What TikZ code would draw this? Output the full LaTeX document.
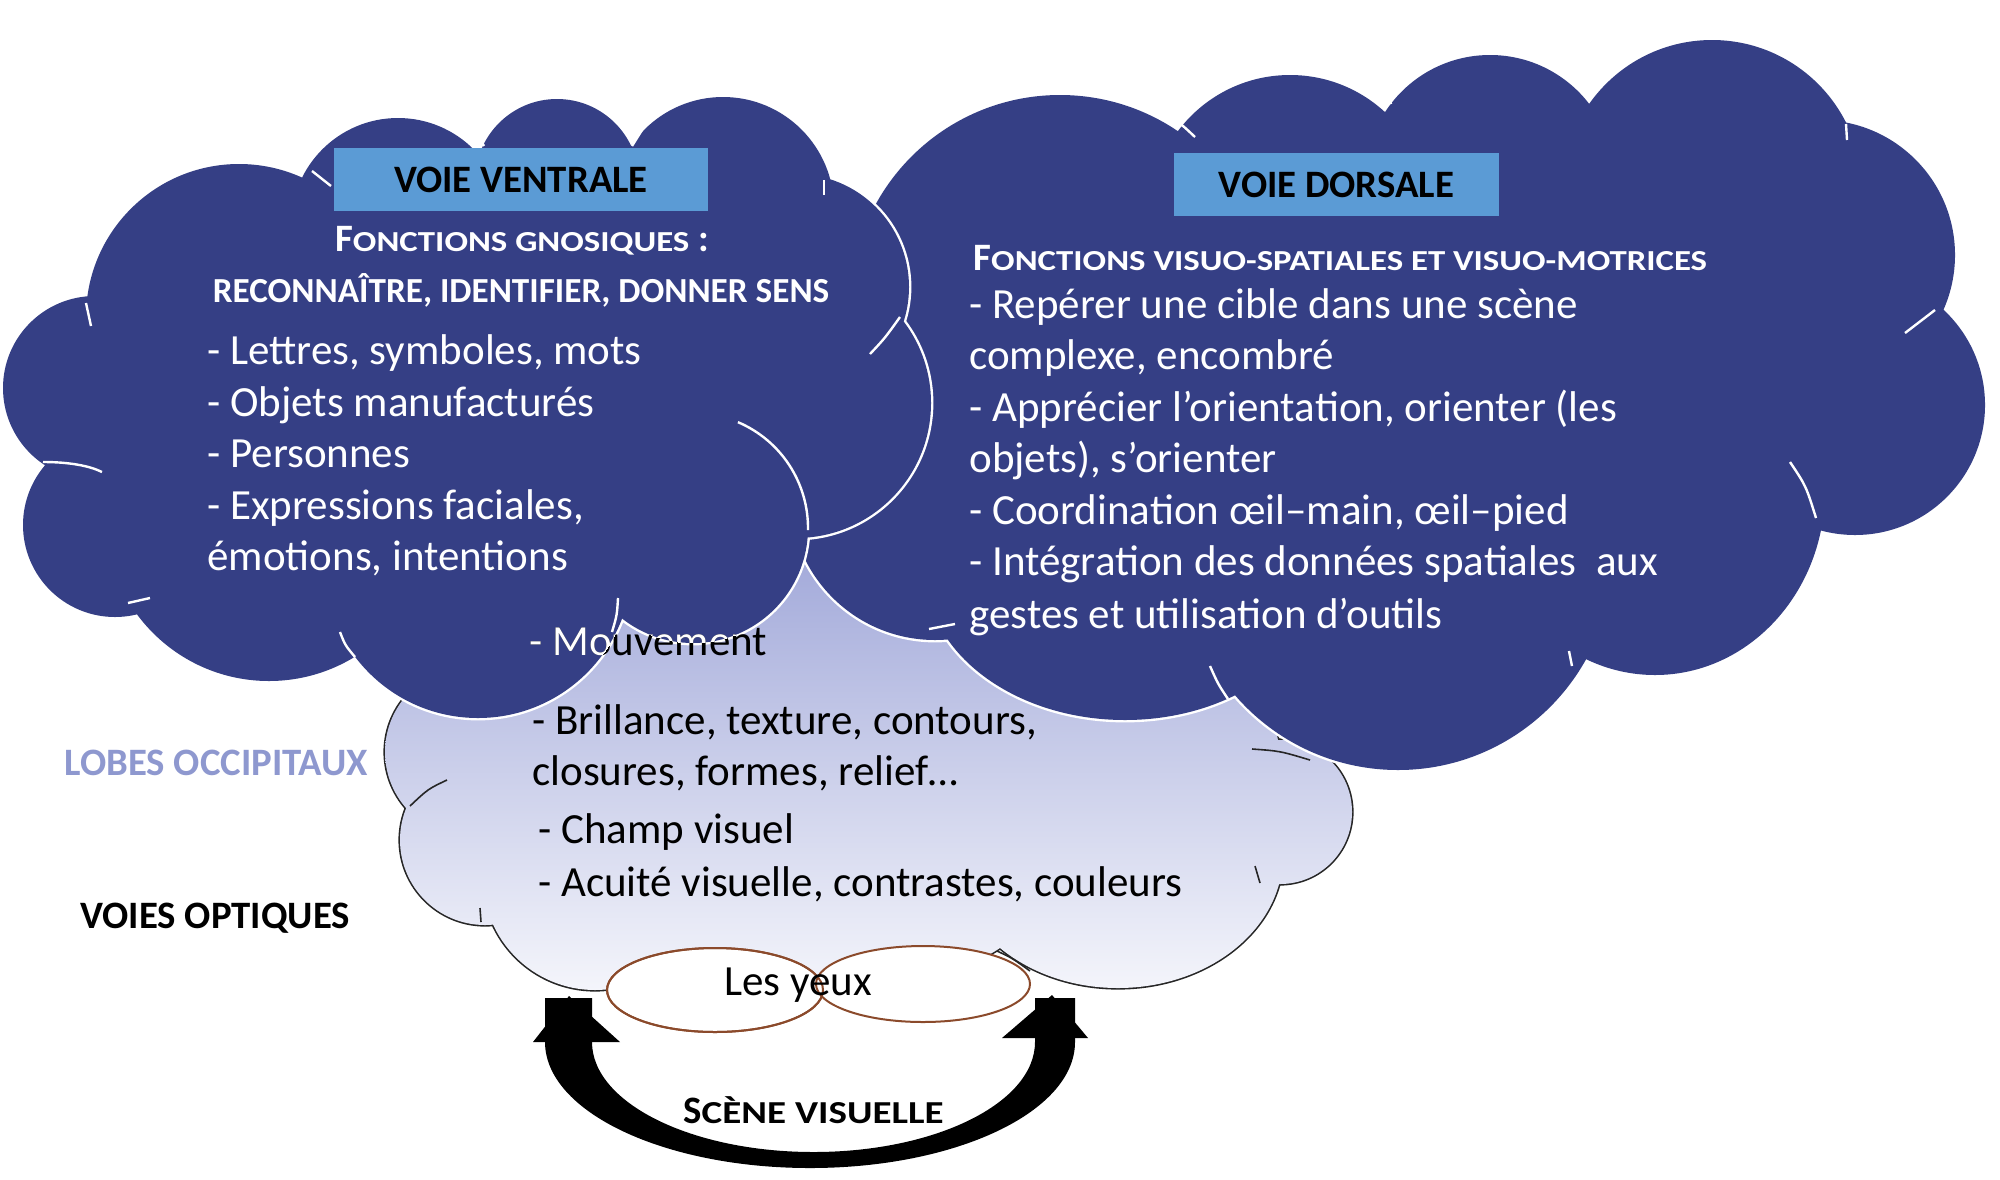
\documentclass[tikz,border=0pt]{standalone}
\usepackage{fontspec}
\usepackage{graphicx}
\setmainfont{Carlito}
\usetikzlibrary{shapes.geometric}
\definecolor{cloudblue}{HTML}{353F85}
\definecolor{boxblue}{HTML}{5B9BD5}
\definecolor{lobetop}{HTML}{A3AADA}
\definecolor{lobebot}{HTML}{F4F5FB}
\definecolor{occip}{HTML}{8E98CF}
\definecolor{eyebrown}{HTML}{8B4A2B}
\newcommand\bodyfont{\fontsize{21.5}{26}\selectfont}
\newcommand\headfont{\fontsize{19.4}{24}\selectfont\bfseries}
\newcommand\smcA[1]{\scalebox{1.2}[1]{\fontsize{14.5}{17}\selectfont #1}}
\newcommand\smcB[1]{\scalebox{1.22}[1]{\fontsize{16}{17}\selectfont #1}}
\newcommand\smcline{\fontsize{17.6}{20}\selectfont\bfseries}
\begin{document}
\begin{tikzpicture}[x=0.5pt,y=-0.5pt,
  darkstroke/.style={draw=white, line width=2.4pt},
  lightstroke/.style={draw=black!85, line width=1.6pt},
  whitetick/.style={draw=white, line width=1.2pt},
  blacktick/.style={draw=black!85, line width=0.8pt},
  whitetxt/.style={text=white, font=\bodyfont, inner sep=0pt, anchor=base west},
  blacktxt/.style={text=black, font=\bodyfont, inner sep=0pt, anchor=base west},
  headbox/.style={fill=boxblue, inner sep=0pt, text=black, font=\headfont, text height=13pt, text depth=0pt},
  eyeshape/.style={ellipse, draw=eyebrown, fill=white, line width=1pt, inner sep=0pt, outer sep=0pt}]
\useasboundingbox (0,0) rectangle (2000,1179);

% ---------- occipital (light) cloud ----------
\draw[lightstroke] (470,752) circle (85) (485,840) circle (85) (595,878) circle (112)
  (800,880) circle (110) (900,900) ellipse (130 and 75) (710,920) ellipse (110 and 50)
  (1118,855) ellipse (165 and 133)
  (1280,812) circle (72) (1180,760) circle (100);
\shade[top color=lobetop, bottom color=lobebot] (470,752) circle (85) (485,840) circle (85)
  (595,878) circle (112) (800,880) circle (110) (900,900) ellipse (130 and 75)
  (710,920) ellipse (110 and 50) (1118,855) ellipse (165 and 133)
  (1280,812) circle (72) (1180,760) circle (100) (820,740) ellipse (330 and 185);
\draw[blacktick] (447,780) .. controls (428,789) .. (410,806);
\draw[blacktick] (480,908) -- (481,922);
\draw[blacktick] (997,951) .. controls (1012,958) .. (1030,971);
\draw[blacktick] (1255,866) -- (1260,883);
\draw[blacktick] (1252,749) .. controls (1280,751) .. (1310,760);

% ---------- dorsal cloud ----------
\draw[darkstroke] (935,495) circle (145) (1060,305) circle (210) (1125,570) ellipse (200 and 150)
  (1398,555) circle (215) (1655,490) ellipse (170 and 185) (1855,405) circle (130)
  (1820,255) circle (135) (1712,190) circle (150) (1490,180) circle (125) (1290,215) circle (140);
\fill[cloudblue] (935,495) circle (145) (1060,305) circle (210) (1125,570) ellipse (200 and 150)
  (1398,555) circle (215) (1655,490) ellipse (170 and 185) (1855,405) circle (130)
  (1820,255) circle (135) (1712,190) circle (150) (1490,180) circle (125) (1290,215) circle (140);
\fill[cloudblue] (935,495) -- (1125,570) -- (1398,555) -- (1655,490) -- (1855,405) -- (1820,255)
  -- (1712,190) -- (1490,180) -- (1290,215) -- (1060,305) -- cycle;
\draw[whitetick] (1158,111) .. controls (1178,121) .. (1195,137);
\draw[whitetick] (1391,104) -- (1386,84);
\draw[whitetick] (1587,89) -- (1604,70);
\draw[whitetick] (1846,124) -- (1847,140);
\draw[whitetick] (1905,333) -- (1935,310);
\draw[whitetick] (1790,462) .. controls (1806,486) .. (1816,518);
\draw[whitetick] (1569,651) -- (1572,666);
\draw[whitetick] (1210,666) .. controls (1218,684) .. (1228,699);
\draw[whitetick] (929,629) -- (955,624);

% ---------- ventral cloud ----------
\draw[darkstroke] (95,388) circle (92) (115,525) circle (92) (269,517) circle (164)
  (478,564) circle (154) (693,528) circle (115) (796,403) circle (135) (796,287) circle (113)
  (723,208) circle (111) (557,181) circle (82) (398,225) circle (107) (239,317) circle (153);
\fill[cloudblue] (95,388) circle (92) (115,525) circle (92) (269,517) circle (164)
  (478,564) circle (154) (693,528) circle (115) (796,403) circle (135) (796,287) circle (113)
  (723,208) circle (111) (557,181) circle (82) (398,225) circle (107) (239,317) circle (153);
\fill[cloudblue] (95,388) -- (115,525) -- (269,517) -- (478,564) -- (693,528) -- (796,403)
  -- (796,287) -- (723,208) -- (557,181) -- (398,225) -- (239,317) -- cycle;
\draw[whitetick] (693,528) ++(-67:115) arc[start angle=-67, end angle=1, radius=115];
\draw[whitetick] (43,462) .. controls (70,462) and (90,466) .. (102,472);
\draw[whitetick] (128,603) -- (150,598);
\draw[whitetick] (340,632) .. controls (345,645) .. (355,657);
\draw[whitetick] (618,598) .. controls (617,615) .. (612,632);
\draw[whitetick] (870,354) .. controls (885,338) .. (900,317);
\draw[whitetick] (86,303) -- (91,326);
\draw[whitetick] (331,186) -- (312,171);
\draw[whitetick] (484,146) -- (475,130);
\draw[whitetick] (632,146) -- (642,130);
\draw[whitetick] (824,180) -- (824,195);

% ---------- boxes and headings ----------
\node[headbox, minimum width=187pt, minimum height=31.5pt] (vvbox) at (521,179.5) {VOIE VENTRALE};
\node[headbox, minimum width=162.5pt, minimum height=31.5pt] (vdbox) at (1336.5,184.5) {VOIE DORSALE};
\node[text=white, font=\headfont, inner sep=0pt, anchor=base] (vvh1) at (522,251)
  {F\smcA{ONCTIONS GNOSIQUES} :};
\node[text=white, font=\smcline, inner sep=0pt, anchor=base] (vvh2) at (521,302)
  {RECONNAÎTRE, IDENTIFIER, DONNER SENS};
\node[text=white, font=\headfont, inner sep=0pt, anchor=base west] (vdh1) at (973,270)
  {F\smcA{ONCTIONS VISUO-SPATIALES ET VISUO-MOTRICES}};

% ---------- ventral text ----------
\node[whitetxt] (v1) at (207,364) {- Lettres, symboles, mots};
\node[whitetxt] (v2) at (207,416) {- Objets manufacturés};
\node[whitetxt] (v3) at (207,467) {- Personnes};
\node[whitetxt] (v4) at (207,519) {- Expressions faciales,};
\node[whitetxt] (v5) at (207,570) {émotions, intentions};

% ---------- dorsal text ----------
\node[whitetxt] (d1) at (969,318) {- Repérer une cible dans une scène};
\node[whitetxt] (d2) at (969,369) {complexe, encombré};
\node[whitetxt] (d3) at (969,421) {- Apprécier l’orientation, orienter (les};
\node[whitetxt] (d4) at (969,472) {objets), s’orienter};
\node[whitetxt] (d5) at (969,524) {- Coordination œil–main, œil–pied};
\node[whitetxt] (d6) at (969,575) {- Intégration des données spatiales~ aux};
\node[whitetxt] (d7) at (969,628) {gestes et utilisation d’outils};

% ---------- occipital text ----------
\node[blacktxt] (o1) at (529,655) {- Mouvement};
\begin{scope}
  \clip (478,564) circle (154) (693,528) circle (115);
  \node[whitetxt] (o1w) at (529,655) {- Mouvement};
\end{scope}
\node[blacktxt] (o2) at (532,734) {- Brillance, texture, contours,};
\node[blacktxt] (o3) at (532,785) {closures, formes, relief…};
\node[blacktxt] (o4) at (538,843) {- Champ visuel};
\node[blacktxt] (o5) at (538,896) {- Acuité visuelle, contrastes, couleurs};

% ---------- side labels ----------
\node[text=occip, font=\headfont, inner sep=0pt, anchor=base west] (lobes) at (64,775) {LOBES OCCIPITAUX};
\node[text=black, font=\headfont, inner sep=0pt, anchor=base west] (voies) at (80,928) {VOIES OPTIQUES};

% ---------- curved arrow ----------
\fill[black] (545,998) -- (545,1042) arc[start angle=180, end angle=0, x radius=265, y radius=126]
  -- (1075,998) -- (1035,998) -- (1035,1042)
  arc[start angle=0, end angle=180, x radius=221.5, y radius=110] -- (592,998) -- cycle;
\fill[black] (533,1042) -- (620,1042) -- (569,996) -- cycle;
\fill[black] (1002,1038) -- (1088,1038) -- (1052,995) -- cycle;

% ---------- eyes ----------
\node[eyeshape, minimum width=108pt, minimum height=42pt] (eyeL) at (715,990) {};
\node[eyeshape, minimum width=107pt, minimum height=38pt] (eyeR) at (923,984) {};
\draw[eyebrown, line width=1pt] (eyeL.center) ellipse (108 and 42);
\node[blacktxt, anchor=base] (yeux) at (798,995) {Les yeux};

\node[text=black, font=\headfont, inner sep=0pt, anchor=base west] (scene) at (683,1123)
  {S\smcB{CÈNE VISUELLE}};
\end{tikzpicture}
\end{document}
